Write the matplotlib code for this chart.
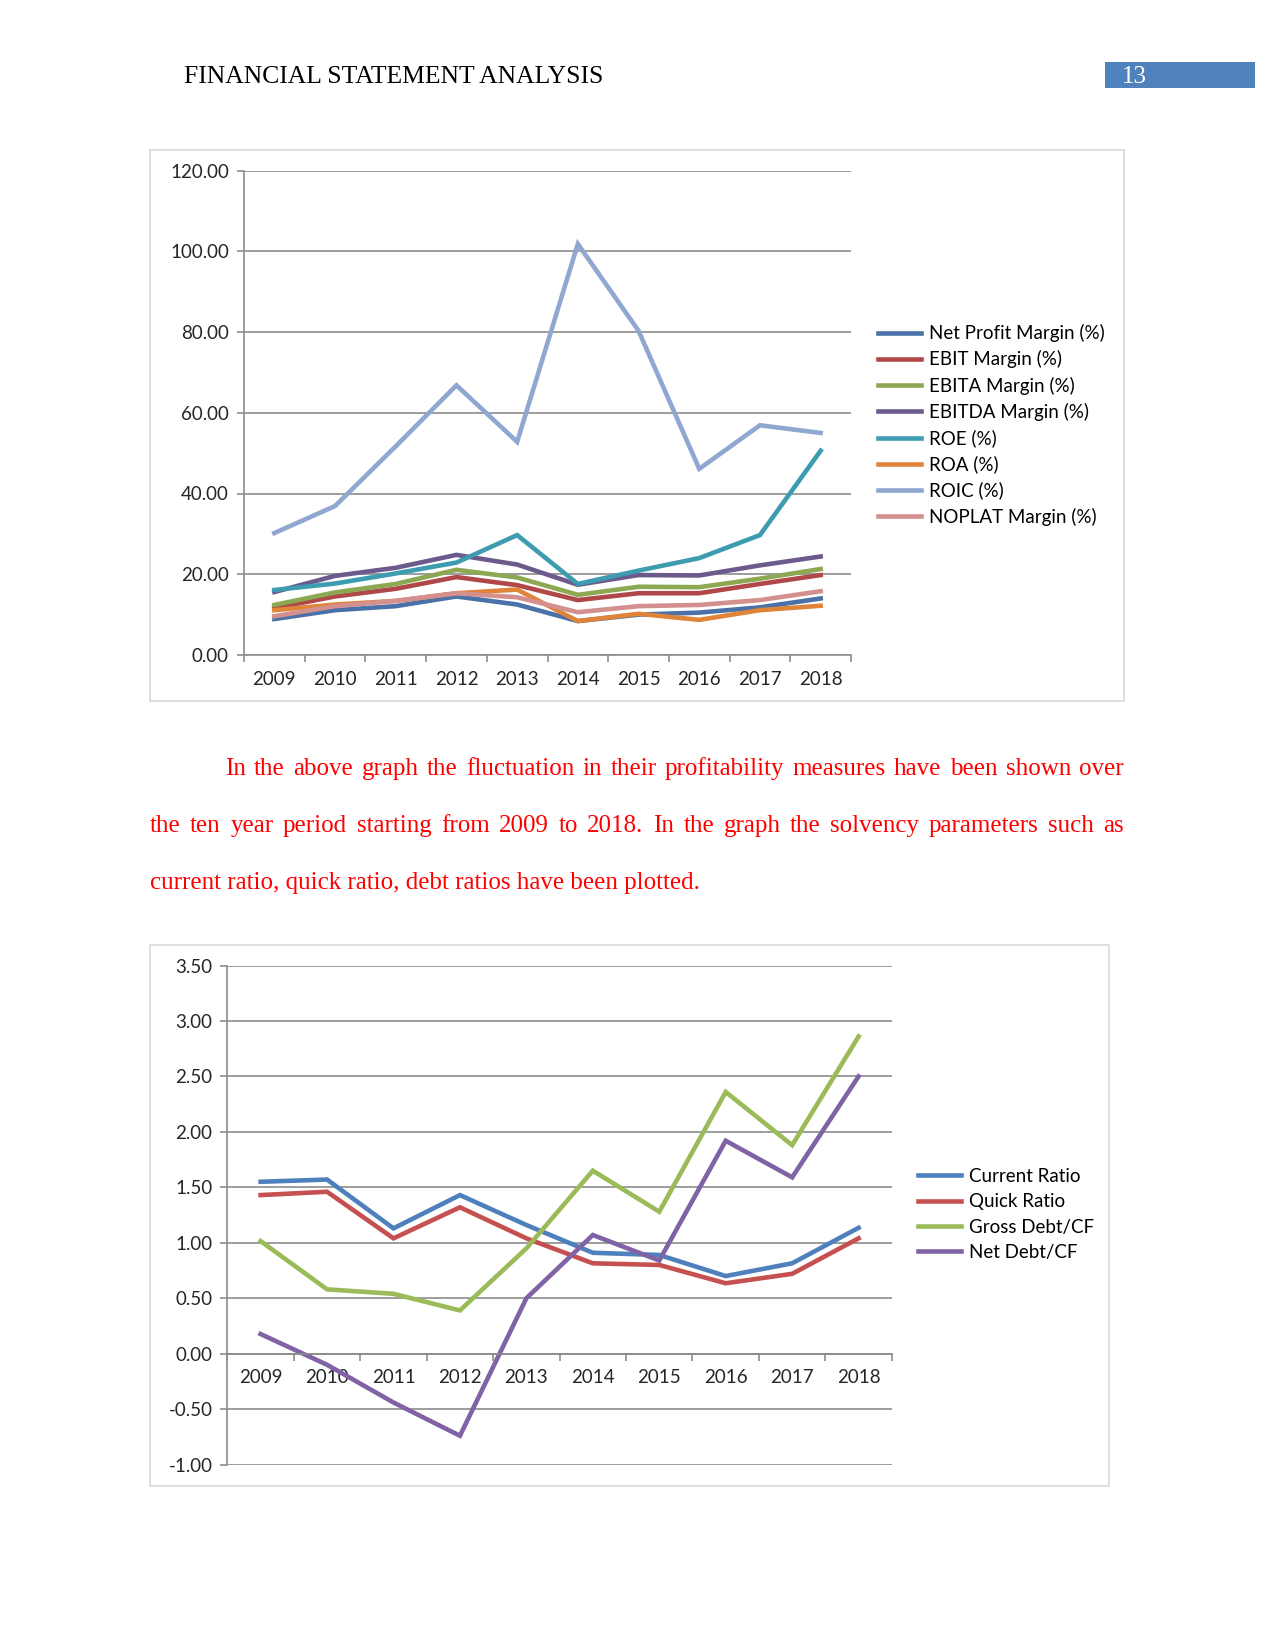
import numpy as np
import matplotlib
matplotlib.use('Agg')
import matplotlib.pyplot as plt
from matplotlib.patches import Rectangle

W, H = 1275, 1651
DPI = 150

years = ['2009', '2010', '2011', '2012', '2013', '2014', '2015', '2016', '2017', '2018']

# Chart 1: profitability (%)
net_profit_margin = [8.9, 11.1, 12.1, 14.5, 12.5, 8.4, 10.0, 10.5, 11.8, 14.0]
ebit_margin = [11.6, 14.5, 16.4, 19.3, 17.3, 13.6, 15.3, 15.3, 17.6, 19.8]
ebita_margin = [12.4, 15.5, 17.6, 21.1, 19.2, 14.9, 16.9, 16.8, 18.9, 21.3]
ebitda_margin = [15.6, 19.6, 21.6, 24.8, 22.4, 17.4, 19.8, 19.7, 22.2, 24.4]
roe = [16.1, 17.7, 20.2, 22.9, 29.7, 17.6, 20.9, 24.0, 29.7, 50.6]
roa = [11.1, 12.5, 13.4, 15.3, 16.2, 8.4, 10.2, 8.7, 11.1, 12.2]
roic = [30.2, 36.9, 51.7, 66.8, 52.8, 101.8, 80.3, 46.1, 56.9, 55.0]
noplat_margin = [9.6, 12.1, 13.4, 15.3, 14.3, 10.6, 12.1, 12.4, 13.6, 15.8]

labels1 = ['Net Profit Margin (%)', 'EBIT Margin (%)', 'EBITA Margin (%)', 'EBITDA Margin (%)',
           'ROE (%)', 'ROA (%)', 'ROIC (%)', 'NOPLAT Margin (%)']
series1 = [net_profit_margin, ebit_margin, ebita_margin, ebitda_margin, roe, roa, roic, noplat_margin]
colors1 = ['#4A72A8', '#B0484A', '#8DA852', '#6D5A8C', '#3D9CB0', '#E0843A', '#8FA7D1', '#D3908F']
yticks1 = [0, 20, 40, 60, 80, 100, 120]

# Chart 2: solvency ratios
current_ratio = [1.55, 1.57, 1.13, 1.43, 1.16, 0.91, 0.89, 0.70, 0.815, 1.135]
quick_ratio = [1.43, 1.46, 1.04, 1.32, 1.04, 0.815, 0.80, 0.635, 0.72, 1.04]
gross_debt_cf = [1.015, 0.58, 0.54, 0.39, 0.95, 1.65, 1.28, 2.36, 1.88, 2.86]
net_debt_cf = [0.177, -0.10, -0.44, -0.74, 0.50, 1.07, 0.84, 1.92, 1.59, 2.50]

labels2 = ['Current Ratio', 'Quick Ratio', 'Gross Debt/CF', 'Net Debt/CF']
series2 = [current_ratio, quick_ratio, gross_debt_cf, net_debt_cf]
colors2 = ['#4E80BD', '#C6504F', '#9BBB59', '#7F63A5']
yticks2 = [-1.0, -0.5, 0.0, 0.5, 1.0, 1.5, 2.0, 2.5, 3.0, 3.5]

header = 'FINANCIAL STATEMENT ANALYSIS'
page_no = '13'
para_lines = [
    'In the above graph the fluctuation in their profitability measures have been shown over',
    'the ten year period starting from 2009 to 2018. In the graph the solvency parameters such as',
    'current ratio, quick ratio, debt ratios have been plotted.',
]

SANS = ['Lato', 'DejaVu Sans']
SERIF = ['Liberation Serif', 'DejaVu Serif']
GRID = '#8C8C8C'
TXT = '#262626'

fig = plt.figure(figsize=(W / DPI, H / DPI), dpi=DPI)
fig.patch.set_facecolor('white')


def fx(px):
    return px / W


def fy(py):
    return 1 - py / H


def axes_px(left, top, right, bottom):
    return fig.add_axes([left / W, 1 - bottom / H, (right - left) / W, (bottom - top) / H])


def box_px(left, top, right, bottom, **kw):
    fig.patches.append(Rectangle((fx(left), fy(bottom)), (right - left) / W, (bottom - top) / H,
                                 transform=fig.transFigure, **kw))


def style_axes(ax, yticks, zero_spine=False):
    n = len(years)
    x = np.arange(n)
    for s in ['top', 'right']:
        ax.spines[s].set_visible(False)
    for s in ['left', 'bottom']:
        ax.spines[s].set_color(GRID)
        ax.spines[s].set_linewidth(0.8)
    if zero_spine:
        ax.spines['bottom'].set_position(('data', 0))
    ax.set_xlim(-0.5, n - 0.5)
    ax.set_ylim(yticks[0], yticks[-1])
    ax.set_yticks(yticks)
    ax.set_yticklabels(['%.2f' % v for v in yticks], fontfamily=SANS, fontsize=9, color=TXT)
    ax.set_xticks(x)
    ax.set_xticklabels(years, fontfamily=SANS, fontsize=9, color=TXT)
    ax.set_xticks(np.arange(n + 1) - 0.5, minor=True)
    ax.tick_params(axis='x', which='major', length=0, pad=7.5)
    ax.tick_params(axis='x', which='minor', length=3.2, width=0.8, color=GRID, direction='out')
    ax.tick_params(axis='y', which='major', length=3.2, width=0.8, color=GRID, direction='out', pad=4)
    ax.yaxis.grid(True, color=GRID, lw=0.8)
    ax.set_axisbelow(True)
    ax.patch.set_alpha(0)
    return x


def add_legend(ax, handles, x_px, top_px):
    ax.legend(handles=handles, loc='upper left', bbox_to_anchor=(fx(x_px), fy(top_px)),
              bbox_transform=fig.transFigure, frameon=False, handlelength=2.3, handletextpad=0.4,
              labelspacing=0.44, borderpad=0, borderaxespad=0,
              prop={'family': SANS, 'size': 9})


# Header
fig.text(fx(184), fy(83), header, fontfamily=SERIF, fontsize=12.3, color='black', va='baseline', ha='left')
box_px(1105, 62, 1255, 88, facecolor='#4F81BD', edgecolor='none')
fig.text(fx(1122), fy(83), page_no, fontfamily=SERIF, fontsize=12, color='white', va='baseline', ha='left')

# Chart 1
box_px(150, 150, 1124, 701, fill=False, edgecolor='#D9D9D9', lw=0.8)
ax1 = axes_px(244, 170.5, 851, 655)
x = style_axes(ax1, yticks1)
handles = []
for vals, c, lab in zip(series1, colors1, labels1):
    ln, = ax1.plot(x, vals, color=c, lw=2.2, solid_joinstyle='miter', label=lab)
    handles.append(ln)
add_legend(ax1, handles, 878, 324)

# Chart 2
box_px(150, 945, 1109, 1486, fill=False, edgecolor='#D9D9D9', lw=0.8)
ax2 = axes_px(227.4, 965.5, 891.8, 1464.6)
x = style_axes(ax2, yticks2, zero_spine=True)
handles = []
for vals, c, lab in zip(series2, colors2, labels2):
    ln, = ax2.plot(x, vals, color=c, lw=2.2, solid_joinstyle='miter', label=lab)
    handles.append(ln)
add_legend(ax2, handles, 918, 1168)

# Paragraph (justified)
renderer = fig.canvas.get_renderer()
kw = dict(fontfamily=SERIF, fontsize=12, color='#FF0000', va='baseline', ha='left')


def place_line(text, x0, x1, y):
    words = text.split(' ')
    objs = [fig.text(0, 0, w, **kw) for w in words]
    widths = [o.get_window_extent(renderer).width for o in objs]
    gap = (x1 - x0 - sum(widths)) / (len(words) - 1)
    xx = x0
    for o, w in zip(objs, widths):
        o.set_position((fx(xx), fy(y)))
        xx += w + gap


place_line(para_lines[0], 225, 1124, 775)
place_line(para_lines[1], 150, 1124, 832)
fig.text(fx(150), fy(889), para_lines[2], **kw)

fig.savefig('out.png', dpi=DPI, facecolor='white')
